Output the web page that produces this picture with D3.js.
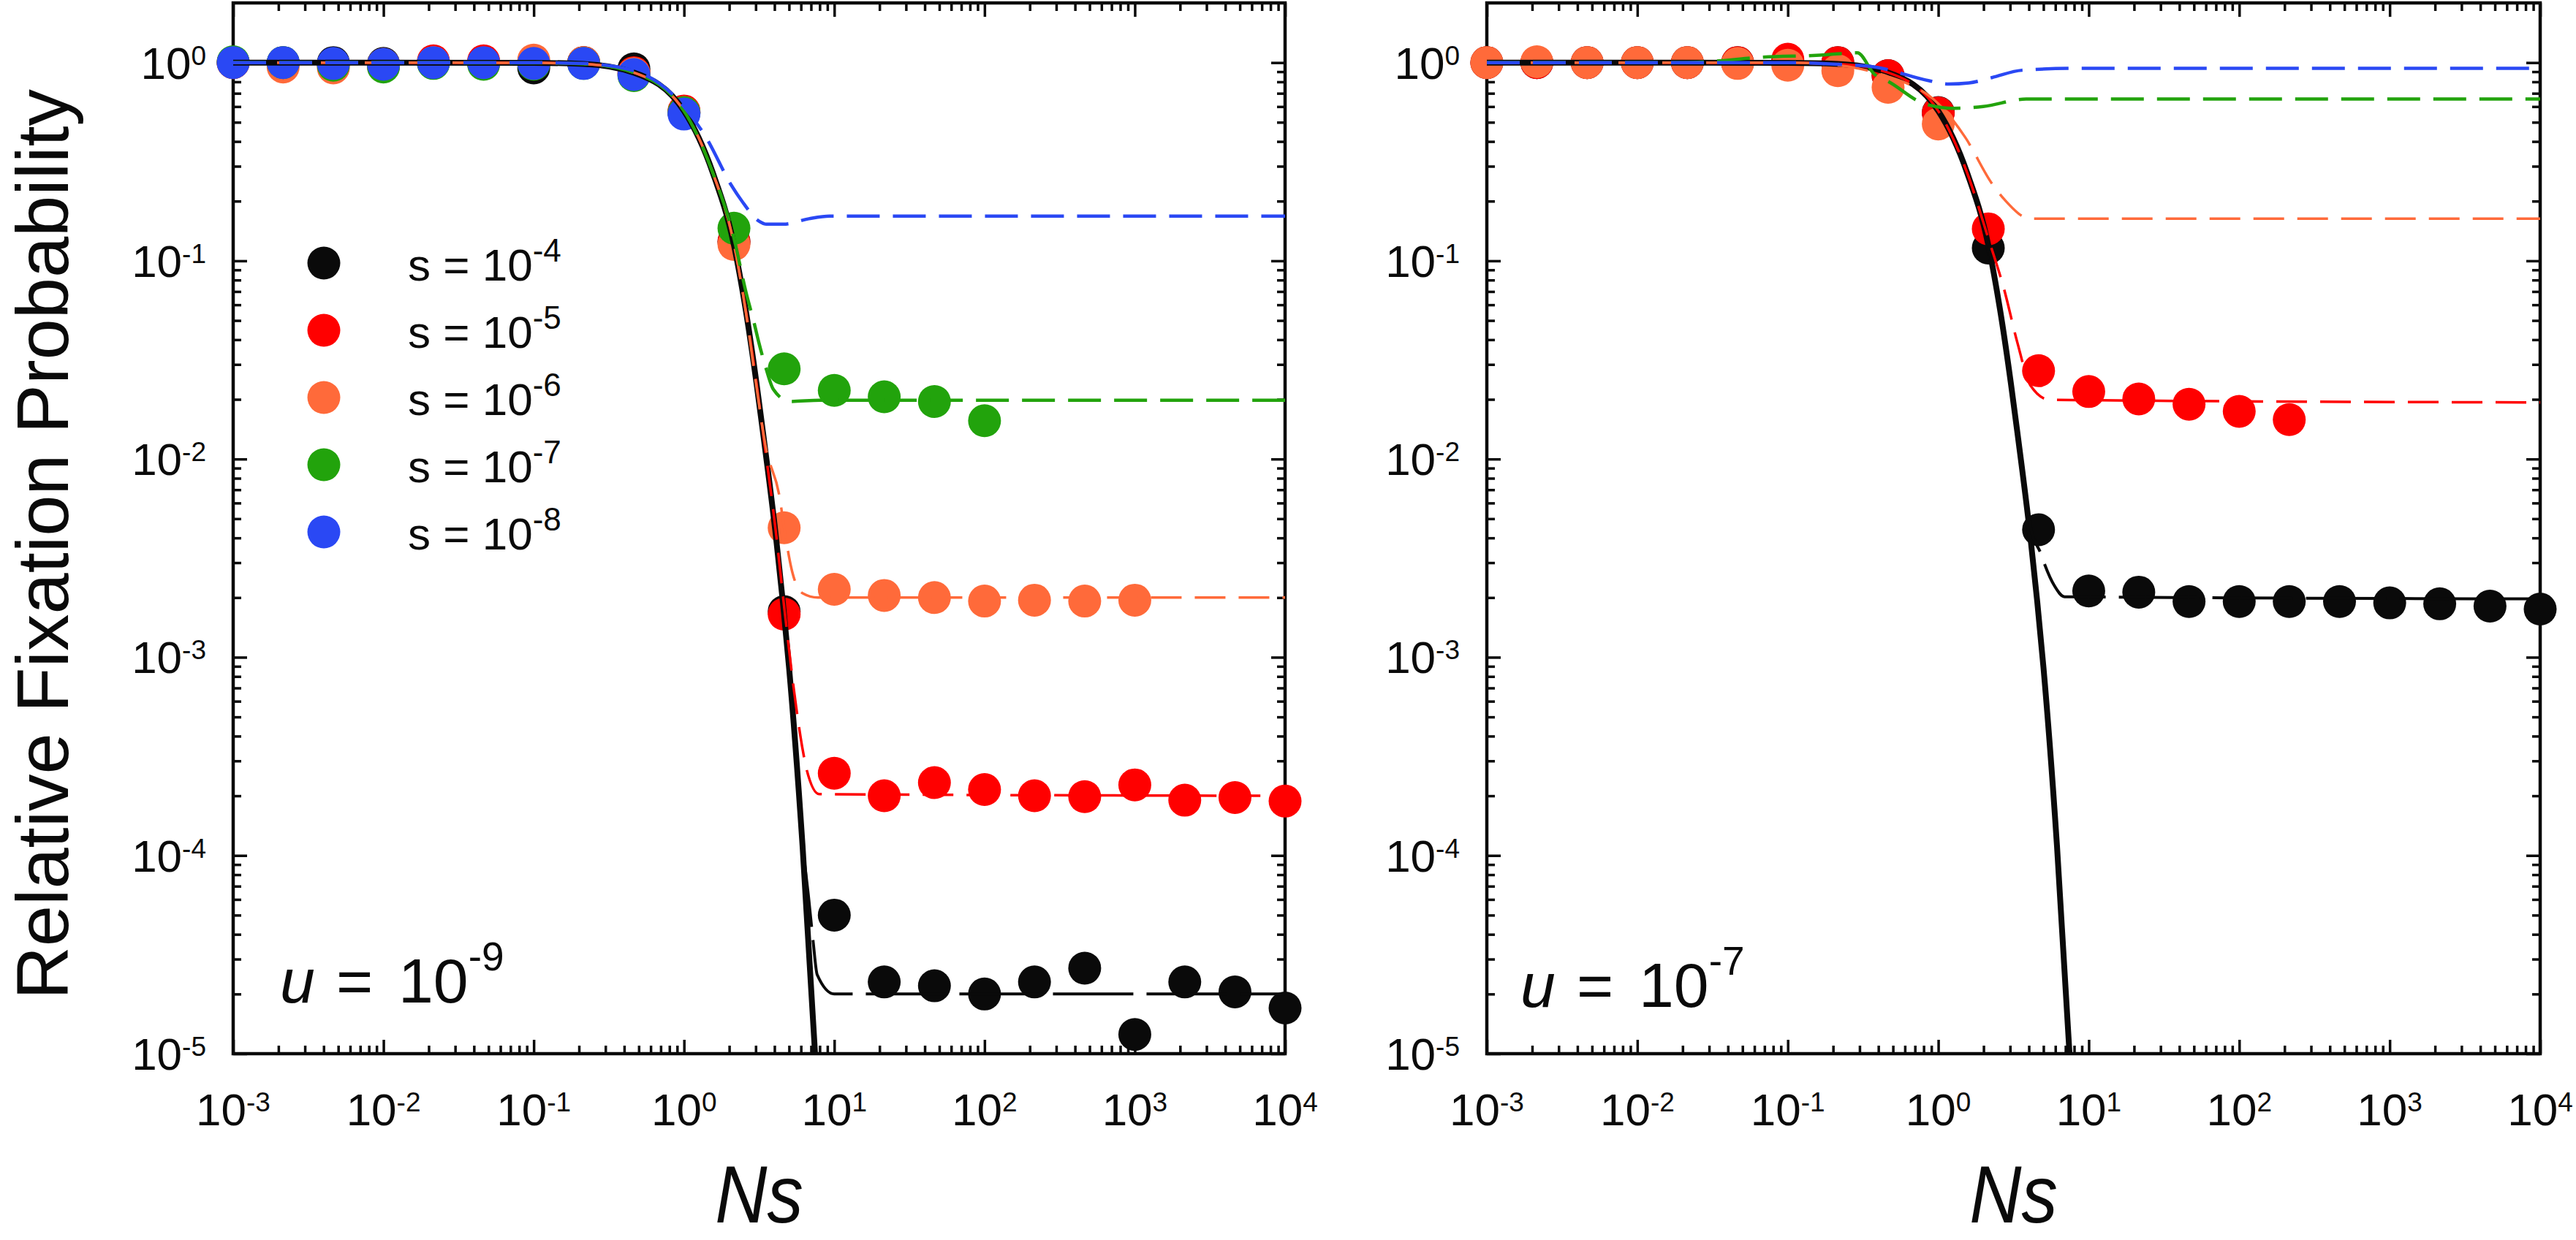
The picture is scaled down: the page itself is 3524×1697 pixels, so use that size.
<!DOCTYPE html>
<html>
<head>
<meta charset="utf-8">
<script src="https://cdn.jsdelivr.net/npm/d3@7"></script>
<style>
  body { margin: 0; background: #fff; }
  text { font-family: "Liberation Sans", Arial, sans-serif; fill: #0a0a0a; }
</style>
</head>
<body>
<script>
var W = 3524, H = 1697;

// Ns values where the simulations were run
var nsPts = [0.001, 0.00215, 0.00464, 0.01, 0.0215, 0.0464, 0.1, 0.215, 0.464, 1,
             2.15, 4.64, 10, 21.5, 46.4, 100, 215, 464, 1000, 2150, 4640, 10000];

// simulated relative fixation probability, u = 1e-9 (left panel)
var simL_s4 = [1.0, 1.0, 1.0, 0.99, 1.0, 1.0, 0.94, 1.0, 0.93, 0.56, 0.125, 0.0017,
               5.0e-5, 2.3e-5, 2.2e-5, 2.0e-5, 2.3e-5, 2.7e-5, 1.25e-5, 2.3e-5, 2.05e-5, 1.7e-5];
var simL_s5 = [1.0, 0.99, 0.98, 0.96, 1.02, 1.02, 1.0, 1.0, 0.89, 0.57, 0.125, 0.00165,
               2.6e-4, 2.0e-4, 2.33e-4, 2.15e-4, 2.0e-4, 1.98e-4, 2.27e-4, 1.9e-4, 1.96e-4, 1.88e-4];
var simL_s6 = [1.0, 0.95, 0.94, 0.98, 1.0, 0.99, 1.03, 1.0, 0.88, 0.56, 0.121, 0.0045,
               2.2e-3, 2.05e-3, 2.0e-3, 1.92e-3, 1.94e-3, 1.92e-3, 1.94e-3, null, null, null];
var simL_s7 = [1.01, 1.0, 0.97, 0.95, 0.99, 0.98, 0.98, 0.99, 0.86, 0.56, 0.146, 0.0285,
               0.0222, 0.0206, 0.0195, 0.0156, null, null, null, null, null, null];
var simL_s8 = [1.0, 1.0, 0.99, 0.98, 1.0, 1.0, 0.99, 0.99, 0.87, 0.55, null, null,
               null, null, null, null, null, null, null, null, null, null];

// simulated relative fixation probability, u = 1e-7 (right panel)
var simR_s4 = [1.0, 1.0, 1.0, 1.0, 1.0, 1.0, 1.0, 1.0, 0.86, 0.56, 0.116, 0.0044,
               0.00216, 0.00213, 0.00191, 0.00191, 0.00191, 0.00191, 0.00188, 0.00186, 0.00181, 0.00175];
var simR_s5 = [1.0, 1.0, 1.0, 1.0, 1.0, 1.0, 1.04, 1.0, 0.86, 0.557, 0.145, 0.0279,
               0.0219, 0.0201, 0.0189, 0.0174, 0.0158, null, null, null, null, null];
var simR_s6 = [1.0, 1.01, 1.0, 1.0, 1.0, 0.99, 0.97, 0.91, 0.75, 0.49, null, null,
               null, null, null, null, null, null, null, null, null, null];

// theory without mutation (solid black), [Ns, value]
var neutralCurve = [[0.001, 1.0], [0.01, 1.0], [0.1, 0.997], [0.215, 0.985], [0.464, 0.89],
  [1, 0.57], [1.55, 0.28], [2.15, 0.12], [2.58, 0.056], [3.04, 0.024], [3.36, 0.0135],
  [4.1, 0.004], [4.55, 0.0019], [5.0, 0.00089], [6.15, 1.12e-4], [7.45, 1.0e-5], [8.0, 3.5e-6]];

// theory with mutation (dashed), u = 1e-9
var thL_s4 = [[0.001, 1.0], [0.1, 0.997], [0.215, 0.985], [0.464, 0.89], [1, 0.57], [1.55, 0.28],
  [2.15, 0.12], [2.58, 0.056], [3.04, 0.024], [3.36, 0.0135], [4.1, 0.004], [4.55, 0.0019],
  [5.0, 0.00089], [6.15, 1.15e-4], [6.77, 6e-5], [7.23, 3.7e-5], [7.7, 2.5e-5], [10, 2.0e-5], [10000, 2.0e-5]];
var thL_s5 = [[0.001, 1.0], [0.1, 0.997], [0.215, 0.985], [0.464, 0.89], [1, 0.57], [1.55, 0.28],
  [2.15, 0.121], [2.58, 0.056], [3.04, 0.024], [3.36, 0.0135], [4.1, 0.0042], [4.64, 0.0018],
  [5.58, 0.00056], [6.17, 0.00034], [6.56, 0.00027], [7.94, 0.000204], [10000, 0.0002]];
var thL_s6 = [[0.001, 1.0], [0.1, 0.997], [0.215, 0.985], [0.464, 0.89], [1, 0.57], [1.55, 0.28],
  [2.15, 0.122], [2.58, 0.055], [3.04, 0.023], [3.5, 0.0115], [4.33, 0.0064], [4.64, 0.0045],
  [5.25, 0.0027], [6.17, 0.0021], [7.76, 0.002], [10000, 0.002]];
var thL_s7 = [[0.001, 1.0], [0.1, 0.997], [0.215, 0.985], [0.464, 0.89], [1, 0.57], [1.55, 0.28],
  [2.15, 0.13], [2.58, 0.07], [2.94, 0.048], [3.14, 0.039], [3.5, 0.029], [3.93, 0.0225],
  [5.08, 0.0195], [8, 0.0198], [10000, 0.0198]];
var thL_s8 = [[0.001, 1.0], [0.1, 1.0], [0.215, 0.99], [0.464, 0.91], [1, 0.6], [1.4, 0.42],
  [2.07, 0.24], [2.43, 0.2], [3.14, 0.159], [3.55, 0.153], [4.6, 0.153], [6.77, 0.163],
  [9.3, 0.168], [20, 0.168], [10000, 0.168]];

// theory with mutation (dashed), u = 1e-7
var thR_s4 = [[0.001, 1.0], [0.1, 0.997], [0.215, 0.985], [0.464, 0.89], [1, 0.57], [1.55, 0.28],
  [2.15, 0.121], [2.58, 0.054], [3.04, 0.024], [3.36, 0.0135], [4.1, 0.0045], [4.83, 0.0033],
  [5.13, 0.0029], [5.9, 0.0023], [6.9, 0.00202], [10000, 0.00197]];
var thR_s5 = [[0.001, 1.0], [0.1, 0.997], [0.215, 0.985], [0.464, 0.89], [1, 0.57], [1.55, 0.28],
  [2.15, 0.13], [2.75, 0.071], [3.36, 0.0385], [4.1, 0.0235], [5.5, 0.0199], [10000, 0.0193]];
var thR_s6 = [[0.001, 1.0], [0.1, 1.0], [0.215, 0.97], [0.464, 0.85], [0.68, 0.76], [0.87, 0.68],
  [1.51, 0.42], [2.26, 0.247], [2.75, 0.204], [4.1, 0.163], [10000, 0.163]];
var thR_s7 = [[0.001, 1.0], [0.02, 1.0], [0.035, 1.02], [0.062, 1.06], [0.163, 1.09], [0.29, 1.12],
  [0.376, 0.875], [0.47, 0.8], [0.81, 0.62], [1.27, 0.588], [1.99, 0.6], [3.84, 0.655], [10000, 0.655]];
var thR_s8 = [[0.001, 1.0], [0.1, 1.0], [0.215, 0.98], [0.38, 0.95], [0.87, 0.81], [1.17, 0.78],
  [1.6, 0.79], [2.27, 0.84], [3.6, 0.915], [7.9, 0.935], [10000, 0.935]];

var xMajor = [1e-3, 1e-2, 1e-1, 1, 10, 100, 1000, 10000];
var xExp = ["-3", "-2", "-1", "0", "1", "2", "3", "4"];
var yMajor = [1, 1e-1, 1e-2, 1e-3, 1e-4, 1e-5];
var yExp = ["0", "-1", "-2", "-3", "-4", "-5"];
var legendExp = ["-4", "-5", "-6", "-7", "-8"];

var cBlack = "#0a0a0a", cRed = "#ff0000", cOrange = "#ff6a3a", cGreen = "#22a30c", cBlue = "#2a48f4";
var sColors = [cBlack, cRed, cOrange, cGreen, cBlue];

var plotTop = 4, plotBottom = 1442;

var panels = [
  { x0: 319, x1: 1758, uOff: 64, uY: 1372, uExp: "-9",
    sims: [simL_s4, simL_s5, simL_s6, simL_s7, simL_s8],
    theory: [thL_s4, thL_s5, thL_s6, thL_s7, thL_s8], legend: true },
  { x0: 2034, x1: 3475, uOff: 46, uY: 1378, uExp: "-7",
    sims: [simR_s4, simR_s5, simR_s6, null, null],
    theory: [thR_s4, thR_s5, thR_s6, thR_s7, thR_s8], legend: false }
];

var svg = d3.select("body").append("svg").attr("width", W).attr("height", H);

var y = d3.scaleLog().domain([1e-5, 2]).range([plotBottom, plotTop]);

function pow10(sel, exp, supSize, dy) {
  sel.append("tspan").text("10");
  sel.append("tspan").attr("font-size", supSize).attr("dy", dy).text(exp);
}

panels.forEach(function(p, pi) {
  var x = d3.scaleLog().domain([1e-3, 1e4]).range([p.x0, p.x1]);
  var g = svg.append("g");

  var clipId = "clip" + pi;
  svg.append("clipPath").attr("id", clipId).append("rect")
    .attr("x", p.x0).attr("y", plotTop).attr("width", p.x1 - p.x0).attr("height", plotBottom - plotTop);

  // ticks, all pointing inwards
  var xMinor = x.ticks(10).filter(function(v) { return xMajor.indexOf(v) < 0; });
  var yMinor = y.ticks(10).filter(function(v) { return v < 1.5 && yMajor.indexOf(v) < 0; });

  function tickAxis(axis, tr) {
    var a = g.append("g").attr("transform", tr).call(axis);
    a.select(".domain").remove();
    a.selectAll("line").attr("stroke", cBlack).attr("stroke-width", 3.5);
  }
  [[xMajor, 19], [xMinor, 11]].forEach(function(t) {
    tickAxis(d3.axisTop(x).tickValues(t[0]).tickSize(t[1]).tickFormat(""), "translate(0," + plotBottom + ")");
    tickAxis(d3.axisBottom(x).tickValues(t[0]).tickSize(t[1]).tickFormat(""), "translate(0," + plotTop + ")");
  });
  [[yMajor, 19], [yMinor, 11]].forEach(function(t) {
    tickAxis(d3.axisRight(y).tickValues(t[0]).tickSize(t[1]).tickFormat(""), "translate(" + p.x0 + ",0)");
    tickAxis(d3.axisLeft(y).tickValues(t[0]).tickSize(t[1]).tickFormat(""), "translate(" + p.x1 + ",0)");
  });

  g.append("rect")
    .attr("x", p.x0).attr("y", plotTop).attr("width", p.x1 - p.x0).attr("height", plotBottom - plotTop)
    .attr("fill", "none").attr("stroke", cBlack).attr("stroke-width", 4.5);

  // tick labels
  xMajor.forEach(function(v, i) {
    var t = g.append("text").attr("x", x(v)).attr("y", 1540)
      .attr("text-anchor", "middle").attr("font-size", 62);
    pow10(t, xExp[i], 37, -19);
  });
  yMajor.forEach(function(v, i) {
    var t = g.append("text").attr("x", p.x0 - 37).attr("y", y(v) + 22)
      .attr("text-anchor", "end").attr("font-size", 62);
    pow10(t, yExp[i], 37, -19);
  });

  // simulation points
  p.sims.forEach(function(vals, si) {
    if (!vals) return;
    var pts = nsPts.map(function(n, i) { return [n, vals[i]]; })
      .filter(function(d) { return d[1] != null; });
    g.append("g").selectAll("circle").data(pts).enter().append("circle")
      .attr("cx", function(d) { return x(d[0]); })
      .attr("cy", function(d) { return y(d[1]); })
      .attr("r", 22.5)
      .attr("fill", sColors[si]);
  });

  var line = d3.line()
    .x(function(d) { return x(d[0]); })
    .y(function(d) { return y(d[1]); })
    .curve(d3.curveMonotoneX);

  var lg = g.append("g").attr("clip-path", "url(#" + clipId + ")");
  lg.append("path").attr("d", line(neutralCurve))
    .attr("fill", "none").attr("stroke", cBlack).attr("stroke-width", 8);

  var widths = [4, 3.5, 3.5, 4.5, 4.5];
  var dashes = ["110,18", "42,18", "42,18", "45,18", "45,18"];
  p.theory.forEach(function(th, si) {
    lg.append("path").attr("d", line(th))
      .attr("fill", "none").attr("stroke", sColors[si])
      .attr("stroke-width", widths[si]).attr("stroke-dasharray", dashes[si]);
  });

  // mutation rate annotation
  var ux = p.x0 + p.uOff;
  var ut = g.append("text").attr("x", ux).attr("y", p.uY).attr("font-size", 86);
  ut.append("tspan").attr("font-style", "italic").text("u");
  ut.append("tspan").attr("x", ux + 77).text("=");
  ut.append("tspan").attr("x", ux + 162).text("10");
  ut.append("tspan").attr("font-size", 55).attr("dy", -44).text(p.uExp);

  // x title
  g.append("text")
    .attr("transform", "translate(" + ((p.x0 + p.x1) / 2) + ",1673) scale(0.88,1)")
    .attr("text-anchor", "middle").attr("font-style", "italic").attr("font-size", 112)
    .text("Ns");

  if (p.legend) {
    legendExp.forEach(function(e, i) {
      var cy = 360 + i * 92;
      g.append("circle").attr("cx", 443).attr("cy", cy).attr("r", 22.5).attr("fill", sColors[i]);
      var t = g.append("text").attr("x", 558).attr("y", cy + 24).attr("font-size", 62);
      t.append("tspan").text("s = 10");
      t.append("tspan").attr("font-size", 44).attr("dy", -26).text(e);
    });
  }
});

// y title
svg.append("text")
  .attr("transform", "translate(93,745) rotate(-90)")
  .attr("text-anchor", "middle").attr("font-size", 101)
  .text("Relative Fixation Probability");
</script>
</body>
</html>
